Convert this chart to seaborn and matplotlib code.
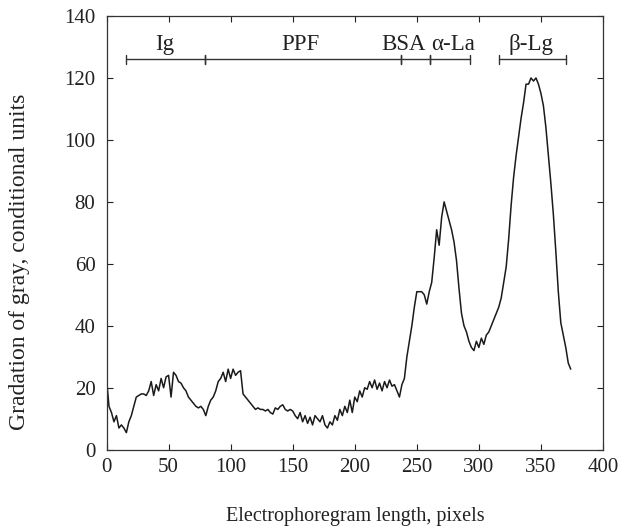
import numpy as np
import pandas as pd
import seaborn as sns
import matplotlib
matplotlib.use("Agg")
import matplotlib.pyplot as plt

# Electrophoregram profile (x in pixels, step 2)
x_vals = list(range(0, 376, 2))
gray = [
    23, 14, 12, 9, 11, 7, 8, 7, 5.5,
    9, 11, 14, 17, 17.5, 18, 18, 17.5, 19,
    22, 17.5, 21, 19, 23, 20, 23.5, 24, 17, 25,
    24, 22, 21.5, 20, 19, 17, 16, 15, 14, 13.5, 14, 13, 11,
    14, 16, 17, 19, 22, 23, 25, 22, 26, 23, 26, 24, 25, 25.5, 18,
    17, 16, 15, 14, 13, 13.5, 13, 13, 12.5, 13, 12, 11.5, 13.5, 13, 14, 14.5, 13, 12.5, 13, 12.5,
    11, 10, 12, 9, 11, 8.5, 10.5, 8, 11, 10, 9, 11, 8, 7, 9,
    8, 11, 9.5, 13, 11, 14, 12, 16, 12, 17, 15.5, 19, 17, 20, 19.5,
    22, 20, 22.5, 19.5, 21.5, 19, 22, 20, 22.5, 20.5, 21, 19, 17, 21, 23,
    30, 35, 40, 46, 51, 51, 51, 50, 47, 51, 54, 62, 71, 66, 75,
    80, 77, 74, 71, 67, 61, 52, 44, 40, 38, 35, 33, 32, 35, 33,
    36, 34, 37, 38, 40, 42, 44, 46, 49, 54, 59, 68, 79, 88, 95,
    101, 107, 112, 118, 118, 120, 119, 120, 118, 115, 111, 104, 95, 86, 76, 64, 51, 41, 37, 33, 28, 26,
]
x_vals = x_vals[:len(gray)]

# Fraction bands
band_names = ["Ig", "PPF", "BSA", "α-La", "β-Lg"]
band_start = [15.7, 79.6, 237.6, 260.5, 316.0]
band_end = [79.6, 237.6, 260.5, 293.2, 370.5]
label_x = [47, 156, 239, 279, 342]

x_ticks = [0, 50, 100, 150, 200, 250, 300, 350, 400]
y_ticks = [0, 20, 40, 60, 80, 100, 120, 140]

sns.set_theme(style="ticks")
plt.rcParams["font.family"] = ["Liberation Serif", "DejaVu Serif"]

fig = plt.figure(figsize=(6.22, 5.29), dpi=100)
ax = fig.add_axes([106.5 / 622, 1 - 449.7 / 529, (603 - 106.5) / 622, (449.7 - 16) / 529])

df = pd.DataFrame({"x": x_vals, "y": gray})
sns.lineplot(data=df, x="x", y="y", ax=ax, color="#1a1a1a", linewidth=1.1)

band_y = 126
cap = 1.4
for s, e in zip(band_start, band_end):
    ax.plot([s, e], [band_y, band_y], color="#333333", lw=1.0)
for s, e in zip(band_start, band_end):
    for xx in (s, e):
        ax.plot([xx, xx], [band_y - cap, band_y + cap], color="#333333", lw=1.0)
for name, lx in zip(band_names, label_x):
    ax.text(lx, 127.3, name, ha="center", va="bottom", fontsize=16.5, color="#222222")

ax.set_xlim(0, 400)
ax.set_ylim(0, 140)
ax.set_xticks(x_ticks)
ax.set_yticks(y_ticks)
ax.set_xlabel("")
ax.set_ylabel("")
ax.tick_params(direction="in", top=True, right=True, length=4, width=0.8,
               labelsize=15, colors="#222222", pad=6)
ax.tick_params(axis="y", pad=8)
for sp in ax.spines.values():
    sp.set_color("#333333")
    sp.set_linewidth(0.9)

fig.text(355 / 622, 1 - 517 / 529, "Electrophoregram length, pixels", ha="center", va="center",
         fontsize=14.5, color="#222222")
fig.text(20 / 622, 1 - 262 / 529, "Gradation of gray, conditional units", ha="center", va="center",
         rotation=90, fontsize=17, color="#222222")

fig.savefig("out.png", dpi=100)
